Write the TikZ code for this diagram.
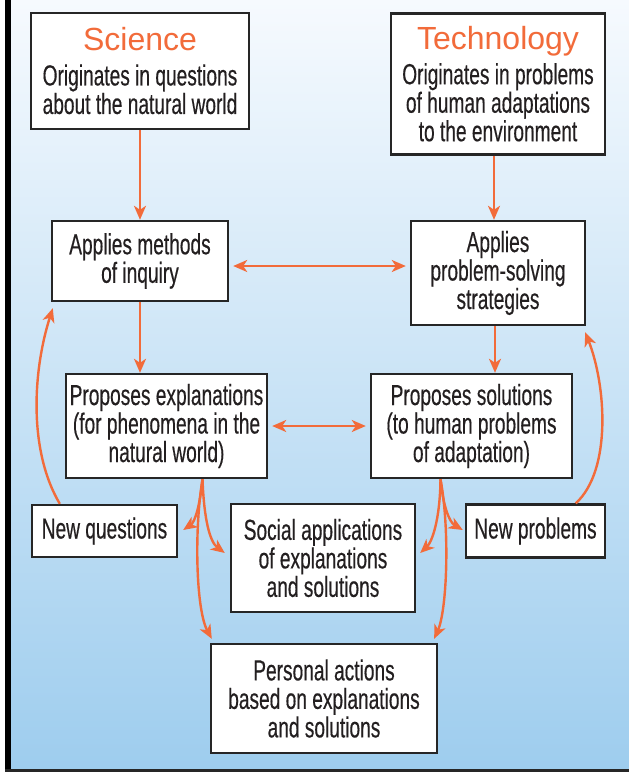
\documentclass[tikz,border=0pt]{standalone}
\usepackage{fontspec}
\usepackage{xcolor}
\usepackage{tikz}
\usetikzlibrary{arrows.meta}
\usetikzlibrary{calc}
\setmainfont{Liberation Sans}
\newfontfamily\condfont[FakeStretch=0.66, FakeBold=0.35]{Liberation Sans}
\newfontfamily\headfont{Liberation Sans}
\definecolor{accent}{RGB}{242,107,58}
\definecolor{bgtop}{RGB}{246,250,254}
\definecolor{bgbot}{RGB}{158,205,238}
\definecolor{ink}{RGB}{35,31,32}
\newcommand\bodytext{\condfont\fontsize{29}{28.5}\selectfont}
\newcommand\headtext{\headfont\fontsize{32}{32}\selectfont\color{accent}}

\tikzset{
    box/.style={draw=black!85, line width=2.4pt, fill=white, align=center,
        inner sep=0pt, font=\bodytext, text=ink},
    flow/.style={draw=accent, line width=2.4pt,
        -{Stealth[length=14pt,width=12pt,inset=4pt]}},
    both/.style={flow, {Stealth[length=14pt,width=12pt,inset=4pt]}-{Stealth[length=14pt,width=12pt,inset=4pt]},
        shorten <=4pt, shorten >=4pt},
}

\begin{document}
\begin{tikzpicture}[x=1pt, y=-1pt]
            \useasboundingbox (0, 0) rectangle (629, 772);
            \fill [white] (0, 0) rectangle (629, 772);
            \shade [top color=bgtop, bottom color=bgbot] (11, 0) rectangle (629, 769);
            \fill [black] (5, 0) rectangle (11, 772);
            \fill [black!85] (5, 769) rectangle (629, 772);

            \node (sci) at (140, 71) [box, minimum width=218pt, minimum height=116pt]
                {{\headtext Science}\\[6pt] Originates in questions\\ about the natural world};
            \node (tech) at (498, 84) [box, minimum width=214pt, minimum height=141pt]
                {{\headtext Technology}\\[6pt] Originates in problems\\ of human adaptations\\ to the environment};
            \node (meth) at (140, 261) [box, minimum width=176pt, minimum height=80pt]
                {Applies methods\\ of inquiry};
            \node (strat) at (498, 273) [box, minimum width=174pt, minimum height=104pt]
                {Applies\\ problem-solving\\ strategies};
            \node (expl) at (166.5, 426) [box, minimum width=201pt, minimum height=104pt]
                {Proposes explanations\\ (for phenomena in the\\ natural world)};
            \node (sol) at (471.5, 426) [box, minimum width=201pt, minimum height=104pt]
                {Proposes solutions\\ (to human problems\\ of adaptation)};
            \node (newq) at (104.5, 531) [box, minimum width=145pt, minimum height=52pt] {New questions};
            \node (soc) at (323, 558) [box, minimum width=184pt, minimum height=108pt]
                {Social applications\\ of explanations\\ and solutions};
            \node (newp) at (535.5, 531) [box, minimum width=139pt, minimum height=53pt] {New problems};
            \node (pers) at (324, 698.5) [box, minimum width=226pt, minimum height=109pt]
                {Personal actions\\ based on explanations\\ and solutions};

            % straight links
            \draw [flow] (sci) -- (meth);
            \draw [flow] ([xshift=-4pt]tech.south) -- ([xshift=-4pt]strat.north);
            \draw [flow] (meth.south) -- (meth.south |- expl.north);
            \draw [flow] ([xshift=-3pt]strat.south) -- ([xshift=-3pt]strat.south |- sol.north);

            \coordinate (row1) at (0, 266);
            \draw [both] (meth.east |- row1) -- (strat.west |- row1);
            \draw [both] (expl) -- (sol);

            % feedback loops
            \draw [flow] ($(newq.north west)+(29, 0)$) .. controls (28, 450) and (33, 370) .. ($(meth.south west)+(2, 6)$);
            \draw [flow] ($(newp.north west)+(111, 0)$) .. controls (612, 470) and (606, 385) .. ($(strat.south east)+(-1, 6)$);

            % outcomes
            \coordinate (fe) at ($(expl.south)+(36, 0)$);
            \coordinate (fs) at ($(sol.south)+(-31, 0)$);
            \draw [flow] (fe) .. controls (200, 505) and (195, 522) .. ($(newq.east)+(5, -1)$);
            \draw [flow] (fe) .. controls (204, 520) and (210, 542) .. ($(soc.west)+(-5, -5)$);
            \draw [flow] (fe) .. controls (194, 530) and (196, 610) .. ($(pers.north west)+(2, -4)$);
            \draw [flow] (fs) .. controls (440, 520) and (432, 542) .. ($(soc.east)+(4, -5)$);
            \draw [flow] (fs) .. controls (443, 505) and (449, 522) .. ($(newp.west)+(-2, -1)$);
            \draw [flow] (fs) .. controls (450, 530) and (447, 610) .. ($(pers.north east)+(-4, -4)$);
        \end{tikzpicture}
\end{document}
